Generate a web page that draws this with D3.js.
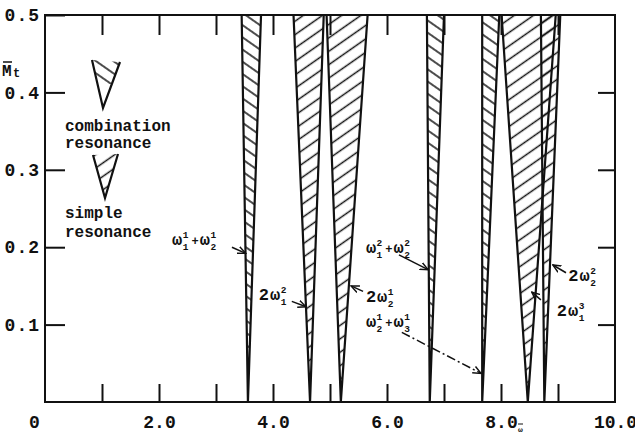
<!DOCTYPE html>
<meta charset="utf-8">
<script src="https://cdn.jsdelivr.net/npm/d3@7"></script>
<style>
  body { margin: 0; background: #fff; }
  svg text { font-family: "Liberation Mono", "DejaVu Sans Mono", monospace; font-weight: bold; fill: #111; }
</style>
<div id="chart"></div>
<script>
// instability zones: tip on the w axis (Mt = 0), edges where they meet Mt = 0.5
const bandNames = ["w1^1+w2^1", "2w1^2", "2w2^1", "w1^2+w2^2", "w2^1+w3^1", "2w1^3", "2w2^2"];
const bandType  = ["combination", "simple", "simple", "combination", "combination", "simple", "simple"];
const bandTip   = [3.56, 4.65, 5.19, 6.75, 7.67, 8.47, 8.76];
const bandLeft  = [3.45, 4.36, 4.94, 6.70, 7.67, 8.01, 8.70];
const bandRight = [3.79, 4.89, 5.66, 7.00, 7.97, 8.96, 9.04];

const xTicks = [1, 2, 3, 4, 5, 6, 7, 8, 9];
const xLabels = [0, 2, 4, 6, 8, 10];
const yTicks = [0.1, 0.2, 0.3, 0.4, 0.5];

// labels: plain strings or [base, superscript, subscript]
const labelTokens = [
  [["ω", "1", "1"], "+", ["ω", "1", "2"]],
  ["2", ["ω", "2", "1"]],
  ["2", ["ω", "1", "2"]],
  [["ω", "2", "1"], "+", ["ω", "2", "2"]],
  [["ω", "1", "2"], "+", ["ω", "1", "3"]],
  ["2", ["ω", "2", "2"]],
  ["2", ["ω", "3", "1"]]
];
const labelAt   = [[2.23, 0.203], [3.75, 0.132], [5.63, 0.129], [5.63, 0.193], [5.63, 0.097], [9.18, 0.156], [8.98, 0.111]];
const leaderFrom = [[3.28, 0.200], [4.33, 0.130], [5.58, 0.143], [6.21, 0.190], [6.26, 0.090], [9.14, 0.167], [8.70, 0.132]];
const leaderTo   = [[3.52, 0.192], [4.58, 0.123], [5.37, 0.150], [6.72, 0.171], [7.65, 0.037], [8.91, 0.177], [8.54, 0.142]];

const margin = {top: 15, right: 20, bottom: 34, left: 45},
    width = 635 - margin.left - margin.right,
    height = 436 - margin.top - margin.bottom;

const svgRoot = d3.select("#chart").append("svg")
    .attr("width", 635).attr("height", 436);
const defs = svgRoot.append("defs");

function hatch(id, angle, gap) {
  defs.append("pattern")
      .attr("id", id)
      .attr("patternUnits", "userSpaceOnUse")
      .attr("width", 12).attr("height", gap)
      .attr("patternTransform", `rotate(${angle})`)
    .append("line")
      .attr("x1", 0).attr("x2", 12)
      .attr("y1", gap / 2).attr("y2", gap / 2)
      .attr("stroke", "#111").attr("stroke-width", 1.5);
}
hatch("hatch-simple", -35, 11);
hatch("hatch-comb", 35, 10);
defs.append("marker")
    .attr("id", "arrow")
    .attr("viewBox", "0 0 10 10").attr("refX", 9).attr("refY", 5)
    .attr("markerWidth", 6).attr("markerHeight", 6).attr("orient", "auto")
  .append("path").attr("d", "M0,1 L9,5 L0,9").attr("fill", "none").attr("stroke", "#111").attr("stroke-width", 1.6);

const svg = svgRoot.append("g")
    .attr("transform", `translate(${margin.left}, ${margin.top})`);

const x = d3.scaleLinear().domain([0, 10]).range([0, width]);
const y = d3.scaleLinear().domain([0, 0.5]).range([height, 0]);

// bands
const bands = bandTip.map((t, i) => ({tip: t, left: bandLeft[i], right: bandRight[i], type: bandType[i]}));

svg.selectAll("polygon.band")
  .data(bands)
  .join("polygon")
    .attr("class", "band")
    .attr("points", d => [[x(d.tip), y(0)], [x(d.left), y(0.5)], [x(d.right), y(0.5)]].join(" "))
    .attr("fill", d => d.type === "simple" ? "url(#hatch-simple)" : "url(#hatch-comb)");

svg.selectAll("path.edge")
  .data(bands)
  .join("path")
    .attr("class", "edge")
    .attr("d", d => `M${x(d.left)},${y(0.5)} L${x(d.tip)},${y(0)} L${x(d.right)},${y(0.5)}`)
    .attr("fill", "none")
    .attr("stroke", "#111")
    .attr("stroke-width", 2.2)
    .attr("stroke-linejoin", "miter");

// frame and ticks
svg.append("rect")
    .attr("width", width).attr("height", height)
    .attr("fill", "none").attr("stroke", "#111").attr("stroke-width", 2);

const tickFmt = d => d === 0 ? "0" : d3.format(".1f")(d);

svg.append("g")
    .attr("transform", `translate(0, ${height})`)
    .call(d3.axisBottom(x).tickValues(xTicks).tickSize(-18).tickFormat(""))
    .call(g => g.select(".domain").remove());
svg.append("g")
    .call(d3.axisTop(x).tickValues(xTicks).tickSize(-20).tickFormat(""))
    .call(g => g.select(".domain").remove());
svg.append("g")
    .attr("transform", `translate(0, ${height})`)
    .call(d3.axisBottom(x).tickValues(xLabels).tickSize(0).tickPadding(13).tickFormat(tickFmt))
    .call(g => g.select(".domain").remove())
    .call(g => g.selectAll("text").attr("font-size", 18).attr("fill", "#111")
        .attr("dx", d => d === 0 ? -11 : 0));

svg.append("g")
    .call(d3.axisLeft(y).tickValues(yTicks).tickSize(-20).tickPadding(5).tickFormat(d3.format(".1f")))
    .call(g => g.select(".domain").remove())
    .call(g => g.selectAll("text").attr("font-size", 18).attr("fill", "#111").attr("letter-spacing", 1));
svg.append("g")
    .attr("transform", `translate(${width}, 0)`)
    .call(d3.axisRight(y).tickValues(yTicks.slice(0, 4)).tickSize(-17).tickFormat(""))
    .call(g => g.select(".domain").remove());

svg.selectAll(".tick line").attr("stroke", "#111").attr("stroke-width", 2);

// axis names
const ax = svgRoot.append("g");
ax.append("text").attr("x", 2).attr("y", 76).attr("font-size", 16).text("M");
ax.append("line").attr("x1", 3).attr("x2", 12).attr("y1", 62).attr("y2", 62).attr("stroke", "#111").attr("stroke-width", 1.5);
ax.append("text").attr("x", 13).attr("y", 77).attr("font-size", 12).text("t");
ax.append("text").attr("x", 518).attr("y", 432).attr("font-size", 8).text("ω");
ax.append("line").attr("x1", 518).attr("x2", 523).attr("y1", 424).attr("y2", 424).attr("stroke", "#111").attr("stroke-width", 1);

// legend
const lg = svgRoot.append("g");
lg.append("path")
    .attr("d", "M92,60 L103,108 L120,62 Z")
    .attr("fill", "url(#hatch-comb)");
lg.append("rect").attr("x", 88).attr("y", 84).attr("width", 36).attr("height", 26).attr("fill", "#fff");
lg.append("path")
    .attr("d", "M92,60 L103,108 L120,62")
    .attr("fill", "none").attr("stroke", "#111").attr("stroke-width", 2.2);
lg.append("path")
    .attr("d", "M93,155 L105,198 L118,154 Z")
    .attr("fill", "url(#hatch-simple)");
lg.append("path")
    .attr("d", "M93,155 L105,198 L118,154")
    .attr("fill", "none").attr("stroke", "#111").attr("stroke-width", 2.2);
[["combination", 131], ["resonance", 148], ["simple", 218], ["resonance", 237]].forEach(([t, yy]) => {
  lg.append("text").attr("x", 65).attr("y", yy).attr("font-size", 16).text(t);
});

// zone labels
function drawLabel(g, x0, y0, tokens) {
  let cx = x0;
  tokens.forEach(tok => {
    if (typeof tok === "string") {
      const t = g.append("text").attr("x", cx).attr("y", y0).attr("font-size", tok === "+" ? 12 : 17).text(tok);
      cx += t.node().getComputedTextLength() + 1;
    } else {
      const b = g.append("text").attr("x", cx).attr("y", y0).attr("font-size", 17).text(tok[0]);
      cx += b.node().getComputedTextLength() + 0.5;
      const s1 = g.append("text").attr("x", cx).attr("y", y0 - 7).attr("font-size", 9.5).text(tok[1]);
      const s2 = g.append("text").attr("x", cx).attr("y", y0 + 5).attr("font-size", 9.5).text(tok[2]);
      cx += Math.max(s1.node().getComputedTextLength(), s2.node().getComputedTextLength()) + 3;
    }
  });
}

const ann = svg.append("g");
labelTokens.forEach((tokens, i) => {
  drawLabel(ann, x(labelAt[i][0]), y(labelAt[i][1]), tokens);
  ann.append("line")
      .attr("x1", x(leaderFrom[i][0])).attr("y1", y(leaderFrom[i][1]))
      .attr("x2", x(leaderTo[i][0])).attr("y2", y(leaderTo[i][1]))
      .attr("stroke", "#111").attr("stroke-width", 1.5)
      .attr("stroke-dasharray", i === 4 ? "9,3,2,3" : null)
      .attr("marker-end", "url(#arrow)");
});
</script>
